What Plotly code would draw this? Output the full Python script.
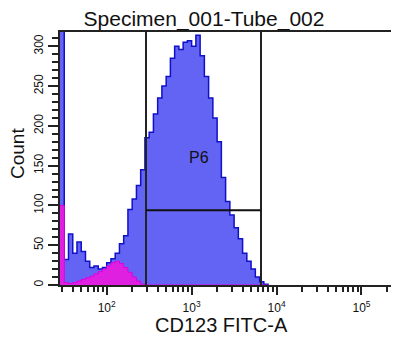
import plotly.graph_objects as go

# log10 of FITC bin centres
fitc_log_centers = [1.475, 1.525, 1.575, 1.625, 1.675, 1.725, 1.775, 1.825, 1.875, 1.925,
                    1.975, 2.025, 2.075, 2.125, 2.175, 2.225, 2.275, 2.325, 2.375, 2.425,
                    2.475, 2.525, 2.575, 2.625, 2.675, 2.725, 2.775, 2.825, 2.875, 2.925,
                    2.975, 3.025, 3.075, 3.125, 3.175, 3.225, 3.275, 3.325, 3.375, 3.425,
                    3.475, 3.525, 3.575, 3.625, 3.675, 3.725, 3.775, 3.825, 3.875]
all_counts = [400, 32, 64, 40, 54, 42, 30, 22, 24, 20,
              22, 28, 33, 40, 52, 62, 95, 108, 125, 145,
              185, 192, 215, 235, 250, 262, 285, 300, 296, 305,
              307, 300, 314, 288, 262, 235, 210, 180, 135, 105,
              88, 72, 58, 40, 30, 20, 10, 4, 1]
gated_counts = [100, 3, 2, 3, 5, 7, 9, 11, 14, 17,
                20, 24, 28, 30, 27, 22, 16, 10, 5, 1,
                0, 0, 0, 0, 0, 0, 0, 0, 0, 0,
                0, 0, 0, 0, 0, 0, 0, 0, 0, 0,
                0, 0, 0, 0, 0, 0, 0, 0, 0]

gate_low, gate_high, gate_count = 290, 6560, 94
gate_name = "P6"
title = "Specimen_001-Tube_002"
x_title = "CD123 FITC-A"
y_title = "Count"
x_tick_vals = [100, 1000, 10000, 100000]
x_tick_text = ["10<sup>2</sup>", "10<sup>3</sup>", "10<sup>4</sup>", "10<sup>5</sup>"]

half = 0.025
def step_xy(counts):
    xs, ys = [], []
    for L, c in zip(fitc_log_centers, counts):
        xs.append(10 ** (L - half)); ys.append(min(c, 330))
    xs.append(10 ** (fitc_log_centers[-1] + half)); ys.append(0)
    return xs, ys

fig = go.Figure()
xa, ya = step_xy(all_counts)
fig.add_trace(go.Scatter(x=xa, y=ya, mode="lines", line=dict(shape="hv", color="#1010c8", width=1.5),
                         fill="tozeroy", fillcolor="#6464f4", showlegend=False))
xg, yg = step_xy(gated_counts)
fig.add_trace(go.Scatter(x=xg, y=yg, mode="lines", line=dict(shape="hv", color="#e000e0", width=1),
                         fill="tozeroy", fillcolor="#e020e0", showlegend=False))

minor_x = []
for d in [10, 100, 1000, 10000, 100000]:
    for k in range(2, 10):
        v = k * d
        if v not in x_tick_vals and 28 < v < 270000:
            minor_x.append(v)

# page body has an 8px margin, so the figure is sized/offset to compensate
W, H = 391, 329
fig.update_layout(
    width=W, height=H,
    margin=dict(l=52, r=1, t=24, b=52),
    paper_bgcolor="white", plot_bgcolor="white",
    font=dict(family="Arial, Liberation Sans, sans-serif", color="#111", size=12),
    xaxis=dict(type="log", range=[1.45, 5.43], showgrid=False, zeroline=False, automargin=False,
               showline=True, linecolor="#222", linewidth=2, mirror=True,
               tickmode="array", tickvals=x_tick_vals, ticktext=x_tick_text,
               ticks="outside", ticklen=8, tickwidth=1.5, tickcolor="#222",
               tickfont=dict(size=12), ticklabelstandoff=3,
               minor=dict(tickvals=minor_x, ticks="outside", ticklen=5, tickwidth=1.5, tickcolor="#222")),
    yaxis=dict(range=[0, 318], showgrid=False, zeroline=False, automargin=False,
               showline=True, linecolor="#222", linewidth=2,
               tickmode="array", tickvals=[0, 50, 100, 150, 200, 250, 300],
               ticks="outside", ticklen=10, tickwidth=1.5, tickcolor="#222",
               tickangle=-90, tickfont=dict(size=12),
               minor=dict(dtick=10, ticks="outside", ticklen=6, tickwidth=1.5, tickcolor="#222")),
    title=dict(text=title, x=196/W, xanchor="center", y=1 - 11/H, yanchor="middle",
               font=dict(size=21, color="#111")),
    shapes=[
        dict(type="line", xref="x", yref="paper", x0=gate_low, x1=gate_low, y0=0, y1=1,
             line=dict(color="#222", width=2)),
        dict(type="line", xref="x", yref="paper", x0=gate_high, x1=gate_high, y0=0, y1=1,
             line=dict(color="#222", width=2)),
        dict(type="line", xref="x", yref="y", x0=gate_low, x1=gate_high, y0=gate_count, y1=gate_count,
             line=dict(color="#111", width=2)),
    ],
    annotations=[
        dict(text=gate_name, x=3.09, y=160, xref="x", yref="y", showarrow=False,
             font=dict(size=16, color="#111")),
        dict(text=x_title, x=(221-60)/338, y=-(325-285)/253, xref="paper", yref="paper",
             xanchor="center", yanchor="middle", showarrow=False, font=dict(size=20, color="#111")),
        dict(text=y_title, x=-(60-17)/338, y=(285-153)/253, xref="paper", yref="paper",
             xanchor="center", yanchor="middle", textangle=-90, showarrow=False,
             font=dict(size=19, color="#111")),
    ],
)
fig.write_html("out.html")
